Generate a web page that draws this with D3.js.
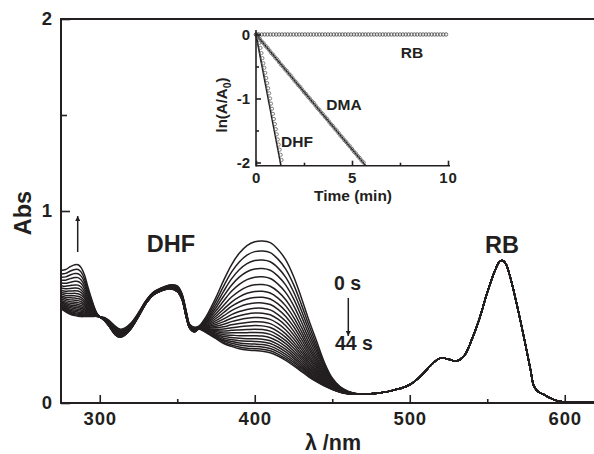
<!DOCTYPE html>
<html><head><meta charset="utf-8">
<script src="https://cdn.jsdelivr.net/npm/d3@7"></script>
<style>
html,body{margin:0;padding:0;background:#fff;}
text{font-family:"Liberation Sans",Arial,sans-serif;font-weight:bold;fill:#231f20;}
</style></head>
<body><svg id="c" width="594" height="454"></svg>
<script>
// ---------- main spectra data ----------
const wavelengths = [275,278,281,284,286,288,290,292,294,296,298,300,303,306,310,313,316,320,325,330,335,340,345,350,353,356,358,361,364,367,370,375,380,385,390,395,400,405,410,415,420,425,430,435,440,445,450,455,460,465,470,475,480,485,490,495,500,505,510,515,520,525,530,535,540,545,550,555,558,560,562,565,570,575,578,580,583,587,590,595,600,610,620];
const absStart = [0.69,0.695,0.71,0.72,0.72,0.705,0.67,0.615,0.56,0.51,0.47,0.45,0.445,0.43,0.40,0.385,0.39,0.415,0.47,0.535,0.58,0.60,0.615,0.61,0.57,0.47,0.41,0.395,0.40,0.43,0.47,0.55,0.64,0.72,0.78,0.82,0.84,0.844,0.835,0.80,0.745,0.66,0.55,0.43,0.32,0.21,0.13,0.085,0.062,0.05,0.046,0.048,0.052,0.058,0.068,0.078,0.095,0.125,0.165,0.208,0.235,0.228,0.218,0.245,0.33,0.44,0.575,0.69,0.738,0.742,0.725,0.65,0.48,0.29,0.17,0.09,0.058,0.042,0.028,0.012,0.005,0.003,0.003];
const absEnd = [0.49,0.475,0.462,0.455,0.452,0.45,0.45,0.45,0.45,0.451,0.451,0.448,0.43,0.40,0.355,0.342,0.352,0.385,0.45,0.52,0.565,0.585,0.595,0.58,0.54,0.44,0.39,0.37,0.385,0.375,0.36,0.335,0.31,0.295,0.283,0.276,0.273,0.27,0.262,0.245,0.222,0.195,0.165,0.135,0.11,0.088,0.07,0.056,0.048,0.045,0.046,0.048,0.052,0.058,0.068,0.078,0.095,0.125,0.165,0.208,0.235,0.228,0.218,0.245,0.33,0.44,0.575,0.69,0.738,0.742,0.725,0.65,0.48,0.29,0.17,0.09,0.058,0.042,0.028,0.012,0.005,0.003,0.003];
// absorbance at 405 nm read for each recorded spectrum (0 s ... 44 s, every 2 s)
const times = [0,2,4,6,8,10,12,14,16,18,20,22,24,26,28,30,32,34,36,38,40,42,44];
const peak405 = [0.844,0.792,0.745,0.701,0.658,0.618,0.583,0.552,0.523,0.495,0.470,0.446,0.424,0.404,0.385,0.368,0.351,0.335,0.321,0.307,0.295,0.283,0.273];
const xTicks = [300,400,500,600];
const xMinor = [350,450,550];
const yTicks = [0,1,2];
const yMinor = [0.5,1.5];

// ---------- inset data ----------
const rbT = [0,0.15,0.3,0.45,0.6,0.75,0.9,1.05,1.2,1.35,1.5,1.65,1.8,1.95,2.1,2.25,2.4,2.55,2.7,2.85,3,3.15,3.3,3.45,3.6,3.75,3.9,4.05,4.2,4.35,4.5,4.65,4.8,4.95,5.1,5.25,5.4,5.55,5.7,5.85,6,6.15,6.3,6.45,6.6,6.75,6.9,7.05,7.2,7.35,7.5,7.65,7.8,7.95,8.1,8.25,8.4,8.55,8.7,8.85,9,9.15,9.3,9.45,9.6,9.75,9.9];
const rbLn = [0,0,0,0,0,0,0,0,0,0,0,0,0,0,0,0,0,0,0,0,0,0,0,0,0,0,0,0,0,0,0,0,0,0,0,0,0,0,0,0,0,0,0,0,0,0,0,0,0,0,0,0,0,0,0,0,0,0,0,0,0,0,0,0,0,0,0];
const dmaT = [0,0.1,0.2,0.3,0.4,0.5,0.6,0.7,0.8,0.9,1,1.1,1.2,1.3,1.4,1.5,1.6,1.7,1.8,1.9,2,2.1,2.2,2.3,2.4,2.5,2.6,2.7,2.8,2.9,3,3.1,3.2,3.3,3.4,3.5,3.6,3.7,3.8,3.9,4,4.1,4.2,4.3,4.4,4.5,4.6,4.7,4.8,4.9,5,5.1,5.2,5.3,5.4,5.5,5.6];
const dmaLn = [0,-0.04,-0.07,-0.11,-0.14,-0.18,-0.21,-0.25,-0.29,-0.32,-0.36,-0.39,-0.43,-0.47,-0.50,-0.54,-0.57,-0.61,-0.64,-0.68,-0.72,-0.75,-0.79,-0.82,-0.86,-0.90,-0.93,-0.97,-1.00,-1.04,-1.07,-1.11,-1.15,-1.18,-1.22,-1.25,-1.29,-1.32,-1.36,-1.40,-1.43,-1.47,-1.50,-1.54,-1.58,-1.61,-1.65,-1.68,-1.72,-1.75,-1.79,-1.83,-1.86,-1.90,-1.93,-1.97,-2.00];
const dhfT = [0,0.05,0.1,0.15,0.2,0.25,0.3,0.35,0.4,0.45,0.5,0.55,0.6,0.65,0.7,0.75,0.8,0.85,0.9,0.95,1,1.05,1.1,1.15,1.2,1.25];
const dhfLn = [0,-0.05,-0.13,-0.21,-0.29,-0.37,-0.45,-0.52,-0.60,-0.68,-0.76,-0.84,-0.92,-1.00,-1.08,-1.16,-1.24,-1.32,-1.40,-1.48,-1.56,-1.64,-1.72,-1.80,-1.88,-1.96];
const dhfFitT = [0,1.3], dhfFitLn = [0,-2.05];
const dmaFitT = [0,5.72], dmaFitLn = [0,-2.05];
const insetXTicks = [0,5,10], insetXMinor = [2.5,7.5];
const insetYTicks = [0,-1,-2], insetYMinor = [-0.5,-1.5];

const ink = "#231f20";
const svg = d3.select("#c");
svg.append("rect").attr("width",594).attr("height",454).attr("fill","#fff");

// ---------- main chart ----------
const x = d3.scaleLinear().domain([275,620]).range([61,595.75]);
const y = d3.scaleLinear().domain([0,2]).range([403,19]);

const gMain = svg.append("g");
svg.append("clipPath").attr("id","mclip").append("rect")
  .attr("x",61).attr("y",19).attr("width",534).attr("height",384);

const line = d3.line().x(d=>x(d[0])).y(d=>y(d[1])).curve(d3.curveCatmullRom.alpha(0.5));
const p0 = peak405[0], pE = peak405[peak405.length-1];
const curves = peak405.map(p=>{
  const w = (p-pE)/(p0-pE);
  return wavelengths.map((l,i)=>[l, absEnd[i] + (absStart[i]-absEnd[i])*w]);
});
gMain.append("g").attr("clip-path","url(#mclip)").selectAll("path").data(curves).join("path")
  .attr("d",line).attr("fill","none").attr("stroke",ink).attr("stroke-width",1.5);

function styleAxis(g){ g.select(".domain").remove(); g.selectAll("line").attr("stroke",ink).attr("stroke-width",1.6); }
function styleText(size,ls){ return g=>g.selectAll("text").attr("font-size",size).attr("font-family","Liberation Sans").attr("font-weight","bold").attr("fill",ink).attr("letter-spacing",ls||0); }

gMain.append("g").attr("transform","translate(0,403)")
  .call(d3.axisBottom(x).tickValues(xTicks).tickSize(-8).tickPadding(9).tickFormat(d3.format("d")))
  .call(styleAxis).call(styleText(18.5,0.8));
gMain.append("g").attr("transform","translate(0,403)")
  .call(d3.axisBottom(x).tickValues(xMinor).tickSize(-4).tickFormat(""))
  .call(styleAxis);
gMain.append("g").attr("transform","translate(61,0)")
  .call(d3.axisLeft(y).tickValues(yTicks).tickSize(-9).tickPadding(9).tickFormat(d3.format("d")))
  .call(styleAxis).call(styleText(18.5));
gMain.append("g").attr("transform","translate(61,0)")
  .call(d3.axisLeft(y).tickValues(yMinor).tickSize(-6).tickFormat(""))
  .call(styleAxis);
// frame lines
gMain.append("line").attr("x1",61).attr("x2",594).attr("y1",403).attr("y2",403).attr("stroke",ink).attr("stroke-width",2);
gMain.append("line").attr("x1",61).attr("x2",61).attr("y1",19).attr("y2",404).attr("stroke",ink).attr("stroke-width",2);
gMain.append("line").attr("x1",60).attr("x2",594).attr("y1",19).attr("y2",19).attr("stroke",ink).attr("stroke-width",2);

// axis titles
svg.append("text").attr("x",333).attr("y",450).attr("text-anchor","middle").attr("font-size",21.5).text("λ /nm");
svg.append("text").attr("transform","translate(31,213) rotate(-90)").attr("text-anchor","middle").attr("font-size",23.5).text("Abs");

// annotations
svg.append("text").attr("x",171).attr("y",252).attr("text-anchor","middle").attr("font-size",23.5).text("DHF");
svg.append("text").attr("x",502).attr("y",253).attr("text-anchor","middle").attr("font-size",23.5).text("RB");
svg.append("text").attr("x",347.5).attr("y",290).attr("text-anchor","middle").attr("font-size",19.5).text("0 s");
svg.append("text").attr("x",354).attr("y",350).attr("text-anchor","middle").attr("font-size",19.5).text("44 s");

const defs = svg.append("defs");
defs.append("marker").attr("id","ah").attr("viewBox","0 0 10 10").attr("refX",10).attr("refY",5)
  .attr("markerWidth",5).attr("markerHeight",5).attr("markerUnits","userSpaceOnUse").attr("orient","auto")
  .append("path").attr("d","M0,0 L10,5 L0,10 Z").attr("fill",ink);
svg.append("line").attr("x1",77.7).attr("x2",77.7).attr("y1",252).attr("y2",216).attr("stroke",ink).attr("stroke-width",1.5).attr("marker-end","url(#ah)");
svg.append("line").attr("x1",348.3).attr("x2",348.3).attr("y1",298).attr("y2",336).attr("stroke",ink).attr("stroke-width",1.5).attr("marker-end","url(#ah)");

// ---------- inset ----------
const xi = d3.scaleLinear().domain([0,10]).range([256,448]);
const yi = d3.scaleLinear().domain([-2.05,0.07]).range([165.7,30]);
const gIn = svg.append("g");
const lineI = d3.line().x(d=>xi(d[0])).y(d=>yi(d[1]));
const zip = (a,b)=>a.map((v,i)=>[v,b[i]]);

[[dhfFitT,dhfFitLn],[dmaFitT,dmaFitLn]].forEach(([t,v])=>{
  gIn.append("path").attr("d",lineI(zip(t,v))).attr("fill","none").attr("stroke",ink).attr("stroke-width",1.6);
});
gIn.append("g").selectAll("circle").data(zip(dhfT,dhfLn)).join("circle")
  .attr("cx",d=>xi(d[0])+1.6).attr("cy",d=>yi(d[1])).attr("r",1.6).attr("fill","none").attr("stroke","#6f6f6f").attr("stroke-width",0.9);
gIn.append("g").selectAll("circle").data(zip(dmaT,dmaLn)).join("circle")
  .attr("cx",d=>xi(d[0])).attr("cy",d=>yi(d[1])).attr("r",1.7).attr("fill","none").attr("stroke","#6f6f6f").attr("stroke-width",0.9);
gIn.append("g").selectAll("circle").data(zip(rbT,rbLn)).join("circle")
  .attr("cx",d=>xi(d[0])).attr("cy",d=>yi(d[1])).attr("r",1.7).attr("fill","none").attr("stroke","#444").attr("stroke-width",0.8);

gIn.append("g").attr("transform","translate(0,165.7)")
  .call(d3.axisBottom(xi).tickValues(insetXTicks).tickSize(-5).tickPadding(7).tickFormat(d3.format("d")))
  .call(styleAxis).call(styleText(15,0.8));
gIn.append("g").attr("transform","translate(0,165.7)")
  .call(d3.axisBottom(xi).tickValues(insetXMinor).tickSize(-3).tickFormat(""))
  .call(styleAxis);
gIn.append("g").attr("transform","translate(256,0)")
  .call(d3.axisLeft(yi).tickValues(insetYTicks).tickSize(-5).tickPadding(6).tickFormat(d=>d===0?"0":String(d)))
  .call(styleAxis).call(styleText(15));
gIn.append("g").attr("transform","translate(256,0)")
  .call(d3.axisLeft(yi).tickValues(insetYMinor).tickSize(-3).tickFormat(""))
  .call(styleAxis);
gIn.append("line").attr("x1",256).attr("x2",450).attr("y1",165.7).attr("y2",165.7).attr("stroke",ink).attr("stroke-width",1.6);
gIn.append("line").attr("x1",256).attr("x2",256).attr("y1",30).attr("y2",166.5).attr("stroke",ink).attr("stroke-width",1.6);

svg.append("text").attr("x",353).attr("y",201).attr("text-anchor","middle").attr("font-size",15.5).text("Time (min)");
const yl = svg.append("text").attr("transform","translate(227,105) rotate(-90)").attr("text-anchor","middle").attr("font-size",15);
yl.append("tspan").text("ln(A/A");
yl.append("tspan").attr("font-size",10.5).attr("dy",4).text("0");
yl.append("tspan").attr("dy",-4).text(")");
svg.append("text").attr("x",412).attr("y",58).attr("text-anchor","middle").attr("font-size",15.5).text("RB");
svg.append("text").attr("x",344).attr("y",110).attr("text-anchor","middle").attr("font-size",15.5).text("DMA");
svg.append("text").attr("x",297).attr("y",146.5).attr("text-anchor","middle").attr("font-size",15.5).text("DHF");
</script></body></html>
